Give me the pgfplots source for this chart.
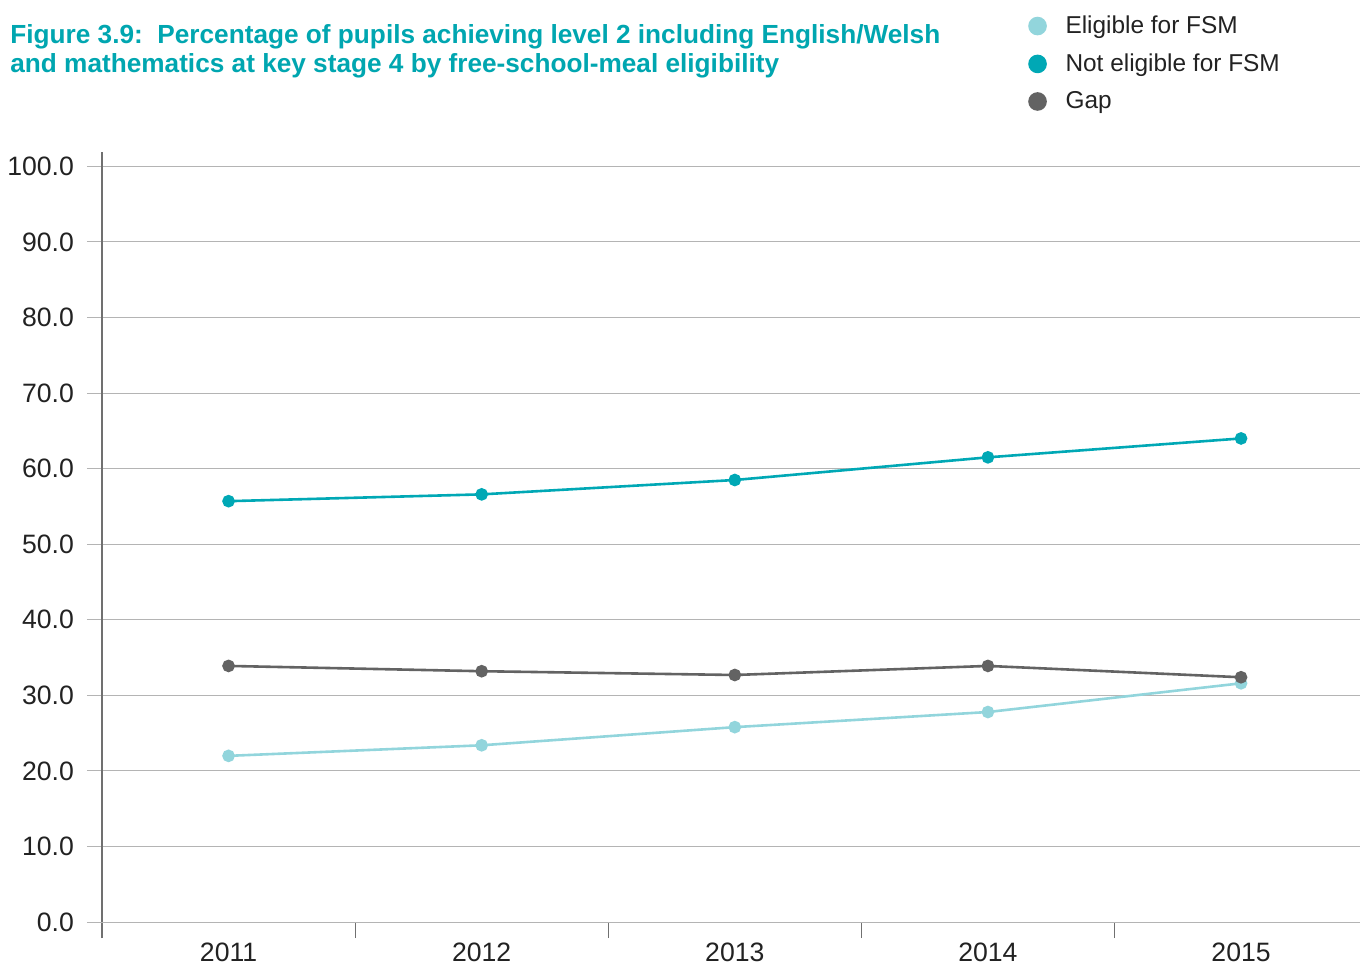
\documentclass[border=0pt]{standalone}
\usepackage{pgfplots}
\pgfplotsset{compat=1.18}
\usepackage{fontspec}
\setmainfont{Liberation Sans}
\definecolor{notel}{HTML}{00A8B5}
\definecolor{elig}{HTML}{92D5DC}
\definecolor{gapc}{HTML}{636363}
\definecolor{titlec}{HTML}{00A6B0}
\definecolor{gridc}{HTML}{B4B4B4}
\definecolor{axisc}{HTML}{707070}
\definecolor{textc}{HTML}{222222}
\begin{document}
\begin{tikzpicture}[x=1pt,y=1pt]
\useasboundingbox (0,0) rectangle (680,482.5);
\node[anchor=north west, align=left, font=\bfseries\fontsize{13.1}{14.6}\selectfont, text=titlec, inner sep=0pt] at (5,470.5)
{Figure 3.9:\ \ Percentage of pupils achieving level 2 including English/Welsh\\and mathematics at key stage 4 by free-school-meal eligibility};
\begin{axis}[
  at={(51pt,13.5pt)}, anchor=south west, scale only axis,
  width=629pt, height=393pt,
  xmin=-0.5, xmax=4.47, ymin=-2.1, ymax=101.9,
  axis y line=left, axis x line=bottom,
  axis line style={-, draw=axisc, line width=0.6pt},
  x axis line style={draw=none},
  xtick={0,1,2,3,4},
  xticklabels={2011,2012,2013,2014,2015},
  minor xtick={-0.5,0.5,1.5,2.5,3.5},
  x tick style={draw=none},
  minor x tick style={draw=axisc, line width=0.6pt},
  minor tick length=8pt,
  xtick align=inside,
  ytick={10,20,...,100},
  extra y ticks={0},
  extra y tick labels={0.0},
  extra y tick style={grid style={draw=axisc, line width=0.7pt}, tick style={draw=axisc, line width=0.7pt}},
  yticklabel style={xshift=-3pt, /pgf/number format/.cd, fixed, fixed zerofill, precision=1},
  /pgf/number format/assume math mode=true,
  ytick align=outside,
  y tick style={draw=gridc, line width=0.5pt},
  major tick length=7.5pt,
  ymajorgrids,
  major grid style={draw=gridc, line width=0.5pt},
  tick label style={font=\fontsize{13.3}{15}\selectfont, text=textc},
  xticklabel style={yshift=1pt},
  clip=false,
  legend style={draw=none, fill=none, at={(0.737,1.179)}, anchor=north west,
    font=\fontsize{12.2}{14}\selectfont, text=textc, row sep=4.6pt, inner sep=0pt},
  legend cell align=left,
  legend image code/.code={\path[draw=none,fill=none] (-4pt,0pt) -- (12pt,0pt); \draw[#1, mark size=4pt] plot coordinates {(0pt,0pt)};},
]
\addplot[elig, line width=1.3pt, mark=*, mark size=2.5pt, mark options={fill=elig, draw=elig}]
  coordinates {(0,22.0) (1,23.4) (2,25.8) (3,27.8) (4,31.6)};
\addlegendentry{Eligible for FSM}
\addplot[notel, line width=1.3pt, mark=*, mark size=2.5pt, mark options={fill=notel, draw=notel}]
  coordinates {(0,55.7) (1,56.6) (2,58.5) (3,61.5) (4,64.0)};
\addlegendentry{Not eligible for FSM}
\addplot[gapc, line width=1.3pt, mark=*, mark size=2.5pt, mark options={fill=gapc, draw=gapc}]
  coordinates {(0,33.9) (1,33.2) (2,32.7) (3,33.9) (4,32.4)};
\addlegendentry{Gap}
\end{axis}
\end{tikzpicture}
\end{document}
